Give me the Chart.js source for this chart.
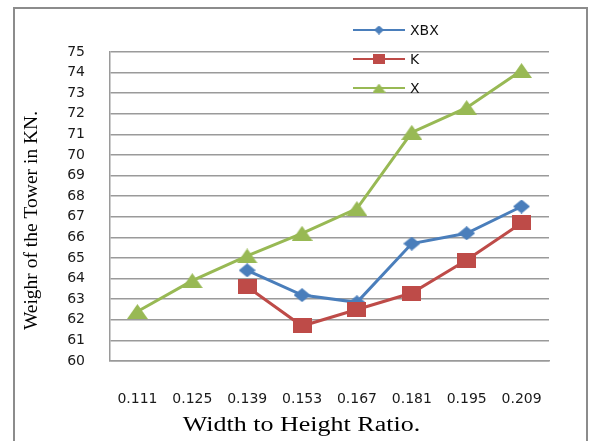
<!DOCTYPE html>
<html>
<head>
<meta charset="utf-8">
<script src="https://cdn.jsdelivr.net/npm/chart.js@4.4.1/dist/chart.umd.min.js"></script>
<style>
  html, body { margin: 0; padding: 0; background: #ffffff; }
  #wrap { width: 589px; height: 441px; position: relative; }
</style>
</head>
<body>
<div id="wrap"><canvas id="chart"></canvas></div>
<script>
// Width-to-height ratios along the x axis
const categories = ['0.111', '0.125', '0.139', '0.153', '0.167', '0.181', '0.195', '0.209'];

// Tower weight (KN) for each bracing type
const xbxValues = [null, null, 64.4, 63.2, 62.85, 65.7, 66.2, 67.5];
const kValues   = [null, null, 63.6, 61.7, 62.5, 63.3, 64.9, 66.7];
const xValues   = [62.4, 63.9, 65.1, 66.2, 67.4, 71.1, 72.3, 74.1];

const seriesNames = ['XBX', 'K', 'X'];

// Y axis range and step
const yMin = 60;
const yMax = 75;
const yStep = 1;

const xTitle = 'Width to Height Ratio.';
const yTitle = 'Weighr of the Tower in KN.';

const BLUE = '#4A7EBB';
const RED = '#BE4B48';
const GREEN = '#98B954';
const GRID = '#9a9a9a';

// Build small canvases used as point markers
function makeMarker(shape, w, h, color) {
  const c = document.createElement('canvas');
  c.width = w; c.height = h;
  const g = c.getContext('2d');
  g.fillStyle = color;
  g.beginPath();
  if (shape === 'diamond') {
    g.moveTo(w / 2, 0); g.lineTo(w, h / 2); g.lineTo(w / 2, h); g.lineTo(0, h / 2);
  } else if (shape === 'square') {
    g.rect(0, 0, w, h);
  } else {
    g.moveTo(w / 2, 0); g.lineTo(w, h); g.lineTo(0, h);
  }
  g.closePath();
  g.fill();
  return c;
}

const markers = [
  makeMarker('diamond', 17, 14, BLUE),
  makeMarker('square', 19, 15, RED),
  makeMarker('triangle', 21, 15, GREEN)
];
const legendMarkers = [
  makeMarker('diamond', 10, 9, BLUE),
  makeMarker('square', 12, 10, RED),
  makeMarker('triangle', 13, 9, GREEN)
];
const colors = [BLUE, RED, GREEN];

// Outer frame, white background, axis titles and the legend box
const decorPlugin = {
  id: 'decor',
  beforeDraw(chart) {
    const ctx = chart.ctx;
    ctx.save();
    ctx.fillStyle = '#ffffff';
    ctx.fillRect(0, 0, chart.width, chart.height);
    ctx.strokeStyle = '#8c8c8c';
    ctx.lineWidth = 2;
    ctx.strokeRect(14, 8, 573, 460);
    ctx.restore();
  },
  afterDraw(chart) {
    const ctx = chart.ctx;
    const area = chart.chartArea;
    ctx.save();
    ctx.fillStyle = '#000000';

    // x axis title
    ctx.save();
    ctx.translate((area.left + area.right) / 2 - 28, 426);
    ctx.scale(1.3, 1);
    ctx.font = '20px "Liberation Serif", "Times New Roman", serif';
    ctx.textAlign = 'center';
    ctx.textBaseline = 'middle';
    ctx.fillText(xTitle, 0, 0);
    ctx.restore();

    // y axis title
    ctx.save();
    ctx.translate(32, (area.top + area.bottom) / 2 + 14);
    ctx.rotate(-Math.PI / 2);
    ctx.font = '19.5px "Liberation Serif", "Times New Roman", serif';
    ctx.textAlign = 'center';
    ctx.textBaseline = 'middle';
    ctx.fillText(yTitle, 0, 0);
    ctx.restore();

    // legend
    const lx0 = 353, lx1 = 405, tx = 410;
    const rows = [30, 59, 88];
    chart.data.datasets.forEach((ds, i) => {
      const y = rows[i];
      ctx.strokeStyle = colors[i];
      ctx.lineWidth = 2;
      ctx.beginPath();
      ctx.moveTo(lx0, y);
      ctx.lineTo(lx1, y);
      ctx.stroke();
      const m = legendMarkers[i];
      ctx.drawImage(m, (lx0 + lx1) / 2 - m.width / 2, y - m.height / 2);
      ctx.fillStyle = '#111111';
      ctx.font = '14px "DejaVu Sans", Verdana, sans-serif';
      ctx.textAlign = 'left';
      ctx.textBaseline = 'middle';
      ctx.fillText(ds.label, tx, y + 1);
    });
    ctx.restore();
  }
};

const seriesData = [xbxValues, kValues, xValues];

new Chart(document.getElementById('chart'), {
  type: 'line',
  data: {
    labels: categories,
    datasets: seriesData.map((vals, i) => ({
      label: seriesNames[i],
      data: vals,
      borderColor: colors[i],
      backgroundColor: colors[i],
      borderWidth: 3,
      pointStyle: markers[i],
      pointRadius: 8,
      fill: false,
      tension: 0,
      spanGaps: false,
      order: 3 - i
    }))
  },
  options: {
    responsive: true,
    maintainAspectRatio: false,
    animation: false,
    layout: { padding: { left: 0, top: 52, right: 40, bottom: 0 } },
    plugins: {
      legend: { display: false },
      tooltip: { enabled: false }
    },
    scales: {
      x: {
        offset: true,
        grid: { display: false },
        border: { display: true, color: GRID, width: 1.5 },
        ticks: {
          color: '#1a1a1a',
          padding: 22,
          font: { family: '"DejaVu Sans", Verdana, sans-serif', size: 14 }
        },
        afterFit(scale) { scale.height = 80; }
      },
      y: {
        min: yMin,
        max: yMax,
        grid: { color: GRID, lineWidth: 1.5, drawTicks: false },
        border: { display: true, color: GRID, width: 1.5 },
        ticks: {
          stepSize: yStep,
          color: '#1a1a1a',
          padding: 25,
          font: { family: '"DejaVu Sans", Verdana, sans-serif', size: 14 }
        },
        afterFit(scale) { scale.width = 110; }
      }
    }
  },
  plugins: [decorPlugin]
});
</script>
</body>
</html>
